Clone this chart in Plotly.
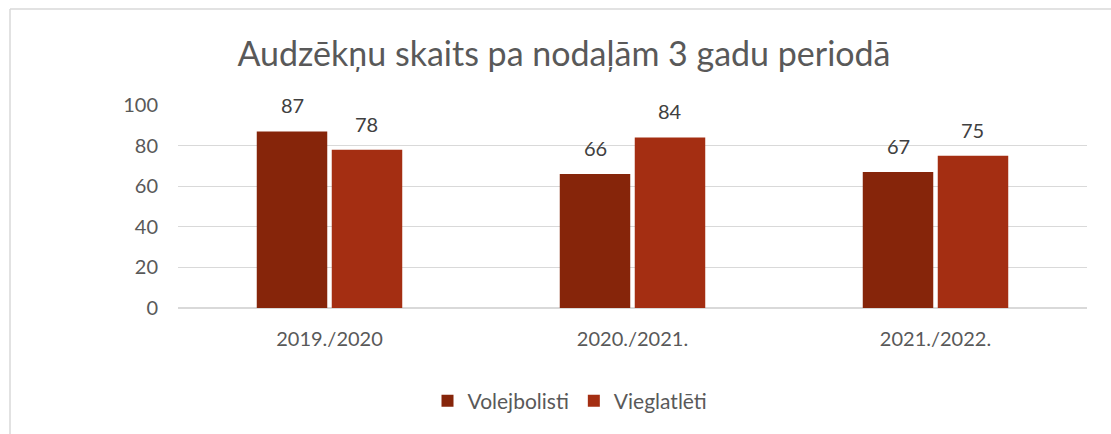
import plotly.graph_objects as go

categories = ["2019./2020", "2020./2021.", "2021./2022."]
volejbolisti = [87, 66, 67]
vieglatleti = [78, 84, 75]
series_names = ["Volejbolisti", "Vieglatlēti"]
y_ticks = [0, 20, 40, 60, 80, 100]

colors = ["#86250A", "#A42E12"]
FONT = "Lato, Carlito, Calibri, sans-serif"

W, H = 1111, 434
L, R, T, B = 178, 1087, 105, 308
pw, ph = R - L, B - T
BARGAP, GROUPGAP = 0.505, 0.06

def px(x):
    return (x - L) / pw

def py(y):
    return (B - y) / ph

fig = go.Figure()
annotations = []
cat_px = pw / len(categories)
slot = cat_px * (1 - BARGAP) / 2
for i, (name, vals, col) in enumerate(zip(series_names, [volejbolisti, vieglatleti], colors)):
    fig.add_trace(go.Bar(
        x=categories, y=vals, name=name,
        marker=dict(color=col, line=dict(width=0)),
    ))
    shift = (i - 0.5) * slot
    for c, v in zip(categories, vals):
        annotations.append(dict(
            x=c, y=v, xref="x", yref="y", text=str(v), showarrow=False,
            xshift=shift, yshift=12, yanchor="bottom", xanchor="center",
            font=dict(size=20, color="#404040", family=FONT),
        ))

fig.update_layout(
    width=W, height=H,
    margin=dict(l=L, r=W - R, t=T, b=H - B),
    paper_bgcolor="white", plot_bgcolor="white",
    barmode="group", bargap=BARGAP, bargroupgap=GROUPGAP,
    font=dict(family=FONT, color="#595959"),
    title=dict(text="Audzēkņu skaits pa nodaļām 3 gadu periodā",
               x=564 / W, xanchor="center", y=1 - 54 / H, yanchor="middle",
               font=dict(size=34, color="#595959", family=FONT)),
    xaxis=dict(showgrid=False, showline=True, linecolor="#D9D9D9", linewidth=1,
               ticks="", tickfont=dict(size=20, color="#595959"),
               ticklabelstandoff=13),
    yaxis=dict(range=[0, 100], tickvals=y_ticks, showgrid=True, gridcolor="#D9D9D9",
               gridwidth=1, zeroline=True, zerolinecolor="#D9D9D9", showline=False,
               ticks="", tickfont=dict(size=20, color="#595959"),
               ticklabelstandoff=19),
    legend=dict(orientation="h", x=px(570), xanchor="center", y=py(401), yanchor="middle",
                font=dict(size=21, color="#595959"), itemwidth=30, traceorder="normal"),
    showlegend=True,
    annotations=annotations,
    shapes=[
        dict(type="line", xref="paper", yref="paper", x0=px(10), x1=px(10),
             y0=py(9), y1=py(450), line=dict(color="#D9D9D9", width=1.5)),
        dict(type="line", xref="paper", yref="paper", x0=px(10), x1=px(1130),
             y0=py(9), y1=py(9), line=dict(color="#D9D9D9", width=1.5)),
    ],
)

fig.write_html("out.html")
